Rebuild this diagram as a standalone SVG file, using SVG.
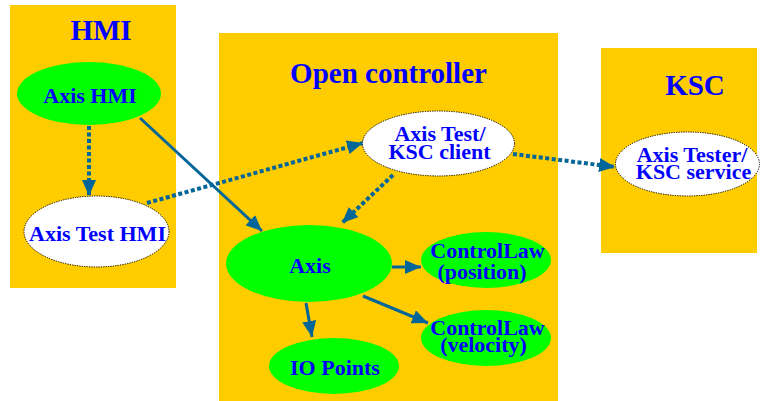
<svg xmlns="http://www.w3.org/2000/svg" width="760" height="401" viewBox="0 0 760 401">
<style>
.box{fill:#FFCC00}
.g{fill:#00FF00}
.w{fill:#FFFFFF;stroke:#000;stroke-width:1;stroke-dasharray:1.2 1.2}
text{font-family:"Liberation Serif","Times New Roman",serif;font-weight:bold;fill:#0000FF;text-anchor:middle}
.t{font-size:29px}
.n{font-size:22px}
.solid{stroke:#006699;stroke-width:3;fill:none}
.dot{stroke:#006699;stroke-width:4;fill:none;stroke-dasharray:4 2.5}
</style>
<defs>
<marker id="ah" markerUnits="userSpaceOnUse" markerWidth="17" markerHeight="14" refX="16" refY="7" orient="auto">
<path d="M0,0 L16,7 L0,14 z" fill="#006699"/>
</marker>
</defs>
<rect width="760" height="401" fill="#FFFFFF"/>
<g id="hmi-box"><rect class="box" x="10" y="5" width="166" height="283"/><text class="t" x="101" y="40">HMI</text></g>
<g id="oc-box"><rect class="box" x="219" y="33" width="339" height="368"/><text class="t" x="388.5" y="83">Open controller</text></g>
<g id="ksc-box"><rect class="box" x="601" y="48" width="156" height="205"/><text class="t" x="695" y="95">KSC</text></g>

<g id="connectors">
<line class="dot" x1="89" y1="126" x2="89" y2="196" marker-end="url(#ah)"/>
<line class="solid" x1="140" y1="118" x2="262" y2="231" marker-end="url(#ah)"/>
<line class="dot" x1="147" y1="203" x2="363" y2="143" marker-end="url(#ah)"/>
<line class="dot" x1="393" y1="175" x2="342" y2="223" marker-end="url(#ah)"/>
<line class="dot" x1="513" y1="154" x2="615" y2="167" marker-end="url(#ah)"/>
<line class="solid" x1="392" y1="267" x2="421" y2="267" marker-end="url(#ah)"/>
<line class="solid" x1="306" y1="303" x2="312" y2="337" marker-end="url(#ah)"/>
<line class="solid" x1="363" y1="296" x2="428" y2="323" marker-end="url(#ah)"/>
</g>

<g id="axis-hmi"><ellipse class="g" cx="89" cy="93.5" rx="72" ry="31.5"/><text class="n" x="90" y="103">Axis HMI</text></g>
<g id="axis-test-hmi"><ellipse class="w" cx="96.5" cy="231.5" rx="72.5" ry="35.5"/><text class="n" x="97.5" y="241">Axis Test HMI</text></g>
<g id="axis-test-client"><ellipse class="w" cx="438.5" cy="143.5" rx="76" ry="32.5"/><text class="n" x="440" y="141">Axis Test/</text><text class="n" x="439.5" y="159">KSC client</text></g>
<g id="axis-tester-service"><ellipse class="w" cx="687.5" cy="164" rx="72" ry="32"/><text class="n" x="692" y="162">Axis Tester/</text><text class="n" x="693.5" y="179">KSC service</text></g>
<g id="axis"><ellipse class="g" cx="309" cy="263.5" rx="83" ry="38.5"/><text class="n" x="310" y="273">Axis</text></g>
<g id="cl-position"><ellipse class="g" cx="486" cy="260" rx="65" ry="28"/><text class="n" x="487.5" y="258">ControlLaw</text><text class="n" x="482" y="279">(position)</text></g>
<g id="cl-velocity"><ellipse class="g" cx="486" cy="338" rx="65" ry="28"/><text class="n" x="487.5" y="335">ControlLaw</text><text class="n" x="483.5" y="352">(velocity)</text></g>
<g id="io-points"><ellipse class="g" cx="334" cy="366" rx="65" ry="28"/><text class="n" x="335" y="375">IO Points</text></g>
</svg>
